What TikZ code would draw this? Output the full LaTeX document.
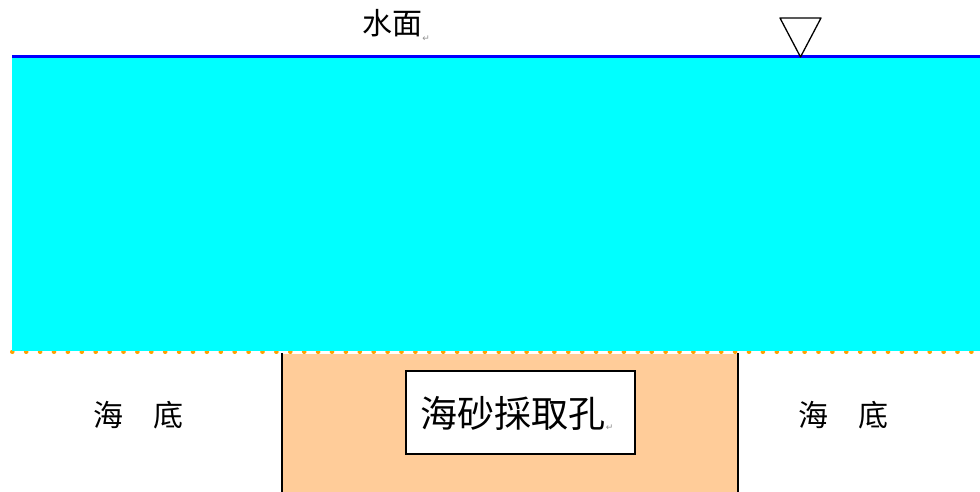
\documentclass[tikz,border=0pt]{standalone}
\usepackage{fontspec}
\newfontfamily\cjk{Noto Sans CJK TC}
\newfontfamily\sym{DejaVu Sans}
\definecolor{water}{HTML}{00FFFF}
\definecolor{sand}{HTML}{FFCC99}
\definecolor{dotorange}{HTML}{FFA000}
\definecolor{surf}{HTML}{0000FF}
\definecolor{mark}{HTML}{909090}
\begin{document}
\begin{tikzpicture}[x=1pt,y=-1pt,
  lbl/.style={font=\cjk\fontsize{30}{32}\selectfont,inner sep=0pt},
  pmark/.style={font=\sym\fontsize{9}{9}\selectfont,text=mark,inner sep=0pt}]
\useasboundingbox (0,0) rectangle (980,492);
% water
\fill[water] (12,57) rectangle (980,351);
\draw[surf,line width=3pt] (12,57) -- (980,57);
% sea bottom dotted line
\draw[dotorange,line width=4pt,line cap=round,dash pattern=on 0.6pt off 13.3pt] (12,351.5) -- (980,351.5);
\fill[water] (12,340) rectangle (980,351);
% sand extraction pit
\fill[sand] (282,354) rectangle (738,492);
\draw[black,line width=1.2pt] (282,353) -- (282,492) (738,353) -- (738,492);
\node[draw=black,line width=1.2pt,fill=white,minimum width=229pt,minimum height=83pt,inner sep=0pt] (hole) at (520.5,412.5) {};
\node[lbl,font=\cjk\fontsize{37}{39}\selectfont] (holetxt) at (513,413) {海砂採取孔};
\node[pmark,anchor=south west] (pm3) at (holetxt.south east) {↵};
% labels
\node[lbl] (surface) at (392,23) {水面};
\node[pmark,anchor=south west] (pm1) at ([yshift=-5pt]surface.south east) {↵};
\node[lbl] (bl) at (138,415) {海　底};
\node[lbl] (br) at (843,415) {海　底};
% water level symbol
\coordinate (tl) at (780,18);
\coordinate (tr) at (821,18);
\coordinate (tip) at (800.5,57);
\draw[black,line width=1.3pt,line join=round] (tl) -- (tr) -- (tip) -- cycle;
\end{tikzpicture}
\end{document}
